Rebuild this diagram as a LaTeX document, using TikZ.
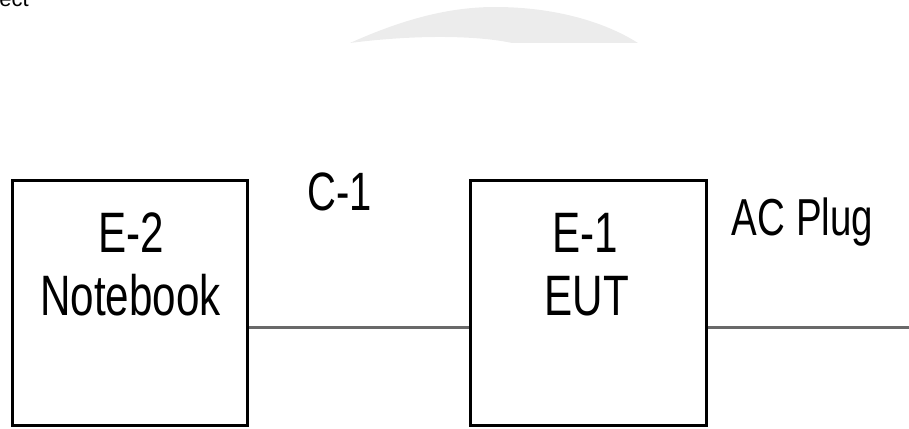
\documentclass[tikz,border=0pt]{standalone}
\usepackage{fontspec}
\setmainfont{Liberation Sans}[FakeStretch=0.74]
\newfontfamily\topfont{Liberation Sans}
\definecolor{wirecol}{RGB}{105,105,105}
\definecolor{markcol}{RGB}{236,236,236}
\begin{document}
\begin{tikzpicture}[x=1pt,y=-1pt,
  unitbox/.style={draw=black, line width=3pt, inner sep=0pt, minimum height=245pt},
  boxtext/.style={inner sep=0pt, anchor=base, font=\fontsize{57}{60}\selectfont},
  wiretext/.style={inner sep=0pt, anchor=base, font=\fontsize{54}{58}\selectfont},
  wire/.style={draw=wirecol, line width=3pt}]
\useasboundingbox (0,0) rectangle (909,428);
% faint mark at the top
\fill[markcol] (350,43) .. controls (410,16) and (455,7) .. (495,7)
  .. controls (555,7) and (605,22) .. (638,43) -- (512,43)
  .. controls (480,36) and (420,34) .. (350,43) -- cycle;
% cut-off text at top left
\node[inner sep=0pt, anchor=base east, font=\topfont\fontsize{22}{24}\selectfont] (cut) at (29,7) {ect};
% boxes
\node[unitbox, minimum width=235pt] (b1) at (129.5,302.5) {};
\node[unitbox, minimum width=236pt] (b2) at (588,302.5) {};
% box texts
\node[boxtext] (t1a) at (131,252) {E-2};
\node[boxtext] (t1b) at (130.5,315) {Notebook};
\node[boxtext] (t2a) at (585,252) {E-1};
\node[boxtext] (t2b) at (587,315) {EUT};
% wires
\coordinate (wy) at (0,327);
\coordinate (plugend) at (909,327);
\draw[wire] (b1.east |- wy) -- (b2.west |- wy);
\draw[wire] (b2.east |- wy) -- (plugend);
% wire labels
\node[wiretext] (c1) at (339.5,210) {C-1};
\node[wiretext, font=\fontsize{52}{56}\selectfont] (ac) at (802.5,235) {AC Plug};
\end{tikzpicture}
\end{document}
